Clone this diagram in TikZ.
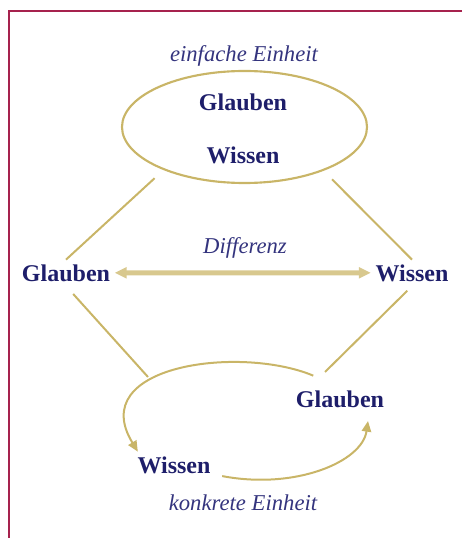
\documentclass[tikz,border=0pt]{standalone}
\usepackage{fontspec}
\setmainfont{Liberation Serif}
\usepackage{xcolor}
\usepackage{tikz}
\usetikzlibrary{arrows.meta,positioning,calc,shapes.geometric}
\definecolor{unitnavy}{HTML}{1E1E6A}
\definecolor{unitink}{HTML}{34347E}
\definecolor{unittan}{HTML}{C9B567}
\definecolor{unitpale}{HTML}{D8C88E}
\definecolor{unitred}{HTML}{A6224D}
\tikzset{
  unitword/.style={font=\fontsize{18}{20}\selectfont\bfseries, text=unitnavy, anchor=base},
  unitlabel/.style={font=\fontsize{17}{20}\selectfont\itshape, text=unitink, anchor=base},
  unitoval/.style={draw=unittan, line width=1.6pt, ellipse, minimum width=183.75pt, minimum height=84pt},
  unitline/.style={-, draw=unittan, line width=1.5pt},
  unitarrow/.style={{Triangle[length=9pt,width=8pt]}-{Triangle[length=9pt,width=8pt]}, draw=unitpale, line width=3.8pt},
  unitloop/.style={-{Triangle[length=8pt,width=7pt]}, draw=unittan, line width=1.5pt},
  unitframe/.style={draw=unitred, line width=2.2pt}
}
\begin{document}
\begin{tikzpicture}[x=0.75pt, y=-0.75pt]
  \useasboundingbox (0,0) rectangle (462,538);
  \draw[unitframe] (462,11) -- (9,11) -- (9,538);

  \node[unitoval] (unity) at (244.5,127) {};
  \node[unitlabel] (einfach) at (244,62) {einfache Einheit};
  \node[unitword] (glaubenT) at (243,111) {Glauben};
  \node[unitword] (wissenT) at (243,164) {Wissen};
  \node[unitword] (glaubenL) at (66,281) {Glauben};
  \node[unitword] (wissenR) at (412,281) {Wissen};
  \node[unitlabel] (differenz) at (245,253) {Differenz};
  \node[unitword] (glaubenB) at (340,407) {Glauben};
  \node[unitword] (wissenB) at (174,473) {Wissen};
  \node[unitlabel] (konkret) at (243,510) {konkrete Einheit};
  \coordinate (meetL) at (148,377);
  \coordinate (meetR) at (325,372);

  \draw[unitline, shorten <=9pt] (unity.208) -- (glaubenL.north);
  \draw[unitline, shorten <=9pt] (unity.331) -- (wissenR.north);
  \draw[unitline, shorten <=8pt] (glaubenL.south) -- (meetL);
  \draw[unitline, shorten <=5pt] (wissenR.south) -- (meetR);

  \draw[unitarrow] (glaubenL.east) -- (wissenR.west);

  \draw[unitloop] ($(glaubenB.north west)+(22,-10)$) .. controls (240,345) and (85,365) .. ($(wissenB.north west)+(5,0)$);
  \draw[unitloop] ($(wissenB.south east)+(7,-2)$) .. controls (295,490) and (362,462) .. ($(glaubenB.south)+(28,9)$);
\end{tikzpicture}
\end{document}
